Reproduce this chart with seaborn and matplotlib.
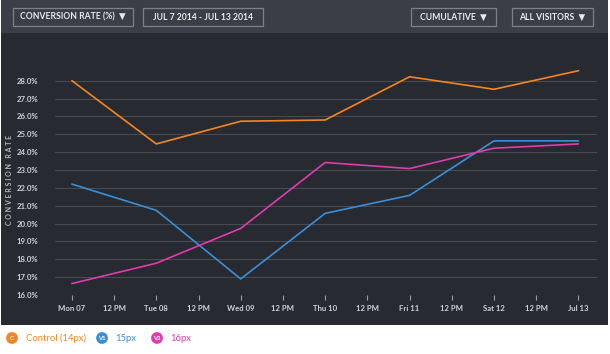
import matplotlib
matplotlib.use("Agg")
import matplotlib.pyplot as plt
from matplotlib.patches import Rectangle, Circle
import seaborn as sns
import pandas as pd

# ---- data ----
days = [0, 1, 2, 3, 4, 5, 6]
control = [28.0, 24.46, 25.73, 25.80, 28.22, 27.52, 28.56]
v1_15px = [22.21, 20.74, 16.90, 20.57, 21.58, 24.63, 24.63]
v2_16px = [16.64, 17.78, 19.73, 23.42, 23.08, 24.22, 24.46]
series_names = ["Control (14px)", "15px", "16px"]
badges = ["C", "V1", "V2"]
x_tick_pos = [0, 0.5, 1, 1.5, 2, 2.5, 3, 3.5, 4, 4.5, 5, 5.5, 6]
x_tick_labels = ["Mon 07", "12 PM", "Tue 08", "12 PM", "Wed 09", "12 PM",
                 "Thu 10", "12 PM", "Fri 11", "12 PM", "Sat 12", "12 PM", "Jul 13"]
y_ticks = [16, 17, 18, 19, 20, 21, 22, 23, 24, 25, 26, 27, 28]

colors = ["#f5861f", "#3a8fd8", "#e23bb0"]

df = pd.DataFrame({
    "day": days * 3,
    "rate": control + v1_15px + v2_16px,
    "series": [series_names[0]] * 7 + [series_names[1]] * 7 + [series_names[2]] * 7,
})

sns.set_theme(style="dark")
plt.rcParams["font.family"] = ["Lato", "DejaVu Sans"]

W, H = 610, 354
fig = plt.figure(figsize=(W / 100, H / 100), dpi=100, facecolor="white")

def fx(px):
    return px / W

def fy(py):
    return 1 - py / H

# backgrounds
fig.patches.append(Rectangle((fx(1), fy(33)), fx(607), 33 / H, transform=fig.transFigure,
                             facecolor="#3b3e46", edgecolor="none", zorder=-5))
fig.patches.append(Rectangle((fx(1), fy(325)), fx(607), 292 / H, transform=fig.transFigure,
                             facecolor="#272a30", edgecolor="none", zorder=-5))

# top bar buttons
buttons = [
    (13, 133, "CONVERSION RATE (%)  \u25BC"),
    (143, 263, "JUL 7 2014 - JUL 13 2014"),
    (411, 496, "CUMULATIVE  \u25BC"),
    (512, 593, "ALL VISITORS  \u25BC"),
]
for x0, x1, label in buttons:
    fig.patches.append(Rectangle((fx(x0), fy(26)), fx(x1 - x0), 18 / H, transform=fig.transFigure,
                                 facecolor="none", edgecolor="#7d8088", linewidth=0.9, zorder=-4))
    fig.text(fx((x0 + x1) / 2), fy(17), label, ha="center", va="center", color="#e8e9eb",
             fontsize=6.2, fontweight="bold")

# axes
ax = fig.add_axes([fx(55), fy(295), fx(597 - 55), (295 - 60) / H])
ax.set_facecolor("none")
ax.patch.set_alpha(0)
sns.lineplot(data=df, x="day", y="rate", hue="series", palette=colors, ax=ax,
             linewidth=1.2, legend=False)
ax.set_xlim(-0.2, 6.22)
ax.set_ylim(16.0, 29.16)
ax.set_yticks(y_ticks)
ax.set_yticklabels([f"{v:.1f}%" for v in y_ticks])
ax.set_xticks(x_tick_pos)
ax.set_xticklabels(x_tick_labels)
ax.grid(axis="y", color="#484b52", linewidth=0.8)
ax.grid(axis="x", visible=False)
ax.set_axisbelow(True)
for s in ax.spines.values():
    s.set_visible(False)
ax.tick_params(axis="y", length=0, pad=12, labelsize=5.6, labelcolor="#d0d2d5")
ax.tick_params(axis="x", length=3.5, width=0.8, color="#9a9ca1", direction="out", pad=4,
               labelsize=5.6, labelcolor="#d0d2d5", bottom=True)
for t in ax.get_xticklabels() + ax.get_yticklabels():
    t.set_fontweight("bold")
ax.set_xlabel("")
ax.set_ylabel("")

fig.text(fx(10), fy(180), "C O N V E R S I O N   R A T E", rotation=90, ha="center", va="center",
         color="#b8babe", fontsize=5.0, fontweight="bold")

# legend at bottom
leg_items = [(12, 26), (102, 115), (157, 170)]
for (cx, tx), name, badge, col in zip(leg_items, series_names, badges, colors):
    ax_c = fig.add_axes([fx(cx - 6), fy(344), fx(12), 12 / H])
    ax_c.set_xlim(-1, 1)
    ax_c.set_ylim(-1, 1)
    ax_c.set_aspect("equal")
    ax_c.axis("off")
    ax_c.add_patch(Circle((0, 0), 0.98, facecolor=col, edgecolor="none"))
    ax_c.text(0, -0.05, badge, ha="center", va="center", color="white", fontsize=4.2,
              fontweight="bold")
    fig.text(fx(tx), fy(338.5), name, ha="left", va="center", color=col, fontsize=6.8)

fig.savefig("out.png", dpi=100, facecolor="white")
